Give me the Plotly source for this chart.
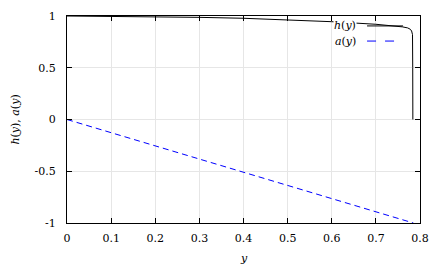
import plotly.graph_objects as go

# data
y_vals_h = [0.0, 0.1, 0.2, 0.3, 0.4, 0.5, 0.6, 0.7, 0.74, 0.76, 0.772, 0.778, 0.781, 0.783, 0.7835, 0.7838]
h_vals = [1.0, 0.998, 0.994, 0.987, 0.978, 0.964, 0.945, 0.92, 0.905, 0.895, 0.885, 0.872, 0.855, 0.82, 0.5, 0.0]
y_vals_a = [0.0, 0.785]
a_vals = [0.0, -1.0]

x_ticks = [0, 0.1, 0.2, 0.3, 0.4, 0.5, 0.6, 0.7, 0.8]
x_tick_text = ["0", "0.1", "0.2", "0.3", "0.4", "0.5", "0.6", "0.7", "0.8"]
y_ticks = [-1, -0.5, 0, 0.5, 1]
y_tick_text = ["-1", "-0.5", "0", "0.5", "1"]

font_fam = "DejaVu Serif"
fs = 11

fig = go.Figure()
fig.add_trace(go.Scatter(x=y_vals_h, y=h_vals, mode="lines", name="h(y)",
                         line=dict(color="black", width=1), showlegend=False))
fig.add_trace(go.Scatter(x=y_vals_a, y=a_vals, mode="lines", name="a(y)",
                         line=dict(color="#0000ff", width=1, dash="6px,4px"), showlegend=False))

axis_common = dict(showgrid=True, gridcolor="#e6e6e6", gridwidth=1, zeroline=False,
                   showline=True, linecolor="black", linewidth=1, mirror="allticks",
                   ticks="inside", ticklen=5, tickcolor="black", automargin=False,
                   tickfont=dict(family=font_fam, size=fs, color="black"))

fig.update_layout(
    width=445, height=267,
    margin=dict(l=67, r=25, t=16, b=44),
    plot_bgcolor="white", paper_bgcolor="white",
    font=dict(family=font_fam, size=fs, color="black"),
    xaxis=dict(range=[0, 0.8], tickvals=x_ticks, ticktext=x_tick_text, ticklabelstandoff=5,
               **axis_common),
    yaxis=dict(range=[-1, 1], tickvals=y_ticks, ticktext=y_tick_text, ticklabelstandoff=8,
               **axis_common),
)

# opaque key box
fig.add_shape(type="rect", xref="paper", yref="paper", x0=0.717, x1=0.972, y0=0.850, y1=1.0,
              fillcolor="white", line=dict(width=0), layer="between")

# axis titles
fig.add_annotation(xref="paper", yref="paper", x=0.5, y=-0.17, text="<i>y</i>", showarrow=False,
                   xanchor="center", yanchor="middle", font=dict(family=font_fam, size=fs, color="black"))
fig.add_annotation(xref="paper", yref="paper", x=-0.147, y=0.5, text="<i>h</i>(<i>y</i>), <i>a</i>(<i>y</i>)",
                   showarrow=False, textangle=-90, xanchor="center", yanchor="middle",
                   font=dict(family=font_fam, size=fs, color="black"))

# gnuplot-style legend (text right-aligned, sample to the right)
legend_items = [("<i>h</i>(<i>y</i>)", "black", "solid", 0.952),
                ("<i>a</i>(<i>y</i>)", "#0000ff", "dash", 0.879)]
for txt, col, dash, yy in legend_items:
    fig.add_annotation(xref="paper", yref="paper", x=0.822, y=yy, text=txt, showarrow=False,
                       xanchor="right", yanchor="middle", borderpad=0,
                       font=dict(family=font_fam, size=fs, color="black"), bgcolor="white")
    fig.add_shape(type="line", xref="paper", yref="paper", x0=0.850, x1=0.952, y0=yy, y1=yy,
                  line=dict(color=col, width=1, dash=dash))

fig.write_html("out.html", post_script="document.body.style.margin='0';",
               config={"displayModeBar": False})
